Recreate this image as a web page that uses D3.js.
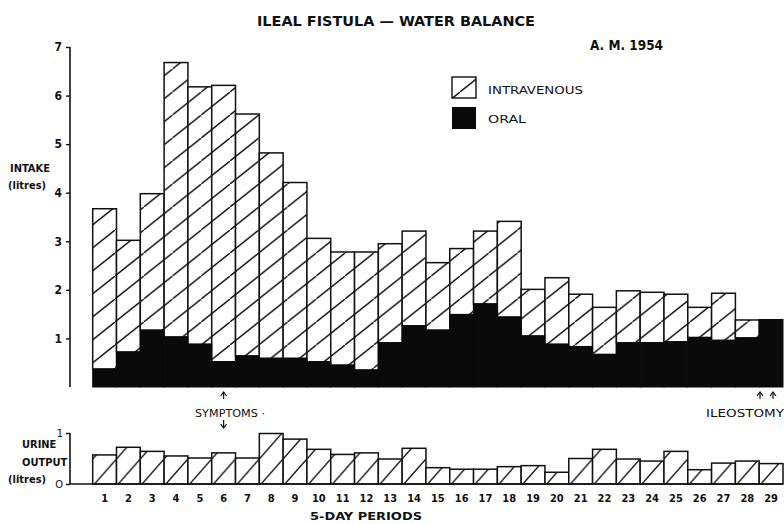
<!DOCTYPE html>
<html><head><meta charset="utf-8">
<script src="https://cdn.jsdelivr.net/npm/d3@7"></script>
<style>
html,body{margin:0;padding:0;background:#fff;}
svg{display:block;}
text{font-family:"Liberation Sans Narrow","DejaVu Sans Condensed","DejaVu Sans",sans-serif;fill:#111;}
</style></head><body>
<script>
// ---- data ----
const periods = d3.range(1, 30);
const totalIntake = [3.67,3.02,3.98,6.68,6.18,6.21,5.62,4.82,4.21,3.06,2.78,2.78,2.95,3.21,2.56,2.85,3.21,3.41,2.01,2.25,1.91,1.64,1.98,1.95,1.91,1.64,1.93,1.38,1.39];
const oralIntake  = [0.37,0.72,1.17,1.03,0.88,0.52,0.64,0.59,0.59,0.52,0.45,0.35,0.91,1.26,1.17,1.49,1.71,1.44,1.05,0.88,0.83,0.67,0.91,0.91,0.93,1.02,0.96,1.01,1.39];
const urineOutput = [0.57,0.72,0.64,0.55,0.51,0.61,0.51,0.99,0.88,0.68,0.58,0.61,0.49,0.70,0.32,0.29,0.29,0.34,0.36,0.23,0.50,0.68,0.49,0.45,0.64,0.28,0.41,0.45,0.40];
const intakeTicks = [1,2,3,4,5,6,7];
const urineTicks = [0,1];

const W = 784, H = 524;
const svg = d3.select("body").append("svg").attr("width", W).attr("height", H);

const defs = svg.append("defs");
function hatch(id, w, h, x0, y0){
  const p = defs.append("pattern").attr("id", id).attr("patternUnits","userSpaceOnUse")
    .attr("width", w).attr("height", h).attr("x", x0).attr("y", y0);
  p.append("rect").attr("width", w).attr("height", h).attr("fill","#fff");
  p.append("path").attr("d", `M${-w},${2*h} L${2*w},${-h}`)
    .attr("stroke","#111").attr("stroke-width",1.4).attr("fill","none");
}
hatch("hatchTop", 28.75, 23, 0, 0);
hatch("hatchBot", 23.8, 27, 92.7, 0);

// ---- scales ----
const x = d3.scaleBand().domain(periods).range([92.7, 783]).padding(0);
const y = d3.scaleLinear().domain([0, 7]).range([387, 47]);
const yB = d3.scaleLinear().domain([0, 1]).range([484, 433]);

// ---- top chart ----
const gTop = svg.append("g");
gTop.selectAll("rect.iv").data(periods).enter().append("rect")
  .attr("x", d => x(d)).attr("width", x.bandwidth())
  .attr("y", (d,i) => y(totalIntake[i]))
  .attr("height", (d,i) => Math.max(0, y(oralIntake[i]) - y(totalIntake[i])))
  .attr("fill","url(#hatchTop)").attr("stroke","#111").attr("stroke-width",1.5);
gTop.selectAll("rect.oral").data(periods).enter().append("rect")
  .attr("x", d => x(d)).attr("width", x.bandwidth())
  .attr("y", (d,i) => y(oralIntake[i]))
  .attr("height", (d,i) => y(0) - y(oralIntake[i]))
  .attr("fill","#0a0a0a").attr("stroke","#0a0a0a").attr("stroke-width",1);

// y axis top
const axT = svg.append("g").attr("transform","translate(70,0)")
  .call(d3.axisLeft(y).tickValues(intakeTicks).tickSize(4).tickSizeOuter(0).tickFormat(d3.format("d")));
axT.select(".domain").attr("stroke","#111").attr("stroke-width",1.6).attr("d", `M0,${y(7)}V${y(0)}`);
axT.selectAll(".tick line").attr("stroke","#111").attr("stroke-width",1.4);
axT.selectAll(".tick text").attr("font-size",12).attr("font-weight","bold").attr("x",-8).attr("fill","#111");

svg.append("text").attr("x",10).attr("y",172).attr("font-size",11).attr("font-weight","bold").text("INTAKE");
svg.append("text").attr("x",8).attr("y",189).attr("font-size",11).attr("font-weight","bold").text("(litres)");

// title
svg.append("text").attr("x",257).attr("y",26).attr("font-size",14).attr("font-weight","600").attr("textLength",278).attr("lengthAdjust","spacingAndGlyphs").text("ILEAL  FISTULA  —  WATER  BALANCE");
svg.append("text").attr("x",590).attr("y",50).attr("font-size",14).attr("font-weight","bold").attr("textLength",73).attr("lengthAdjust","spacingAndGlyphs").text("A. M.  1954");

// legend
svg.append("rect").attr("x",452).attr("y",77).attr("width",24).attr("height",21).attr("fill","url(#hatchTop)").attr("stroke","#111").attr("stroke-width",1.4);
svg.append("rect").attr("x",452).attr("y",107).attr("width",24).attr("height",22).attr("fill","#0a0a0a");
svg.append("text").attr("x",488).attr("y",94).attr("font-size",11).attr("textLength",95).attr("lengthAdjust","spacingAndGlyphs").text("INTRAVENOUS");
svg.append("text").attr("x",488).attr("y",123).attr("font-size",11).attr("textLength",38).attr("lengthAdjust","spacingAndGlyphs").text("ORAL");

// annotations
const symX = x(6) + x.bandwidth()/2;
function arrow(cx, y1, y2){
  svg.append("line").attr("x1",cx).attr("x2",cx).attr("y1",y1).attr("y2",y2).attr("stroke","#111").attr("stroke-width",1.2);
  const dir = y2 < y1 ? -1 : 1;
  svg.append("path").attr("d",`M${cx-3},${y2-dir*4} L${cx},${y2} L${cx+3},${y2-dir*4}`).attr("fill","none").attr("stroke","#111").attr("stroke-width",1.2);
}
arrow(symX, 399, 392);
arrow(symX, 420, 428);
svg.append("text").attr("x",195).attr("y",417).attr("font-size",11).attr("textLength",70).attr("lengthAdjust","spacingAndGlyphs").text("SYMPTOMS ·");
arrow(760, 399, 392);
arrow(773, 399, 392);
svg.append("text").attr("x",706).attr("y",417).attr("font-size",11).attr("textLength",78).attr("lengthAdjust","spacingAndGlyphs").text("ILEOSTOMY");

// ---- bottom chart ----
svg.selectAll("rect.ur").data(periods).enter().append("rect")
  .attr("x", d => x(d)).attr("width", x.bandwidth())
  .attr("y", (d,i) => yB(urineOutput[i]))
  .attr("height", (d,i) => yB(0) - yB(urineOutput[i]))
  .attr("fill","url(#hatchBot)").attr("stroke","#111").attr("stroke-width",1.5);

const axB = svg.append("g").attr("transform","translate(70,0)")
  .call(d3.axisLeft(yB).tickValues(urineTicks).tickSize(4).tickSizeOuter(0).tickFormat(d => d===0 ? "O" : "1"));
axB.select(".domain").attr("stroke","#111").attr("stroke-width",1.6).attr("d",`M0,${yB(1)}V${yB(0)}`);
axB.selectAll(".tick line").attr("stroke","#111").attr("stroke-width",1.4);
axB.selectAll(".tick text").attr("font-size",11).attr("x",-7).attr("fill","#111");
svg.append("line").attr("x1",70).attr("x2",783).attr("y1",yB(0)).attr("y2",yB(0)).attr("stroke","#111").attr("stroke-width",1.6);

svg.append("text").attr("x",22).attr("y",448).attr("font-size",11).attr("font-weight","bold").text("URINE");
svg.append("text").attr("x",22).attr("y",466).attr("font-size",11).attr("font-weight","bold").text("OUTPUT");
svg.append("text").attr("x",8).attr("y",483).attr("font-size",11).attr("font-weight","bold").text("(litres)");

// x axis labels
const axX = svg.append("g").attr("transform",`translate(0,${yB(0)})`)
  .call(d3.axisBottom(x).tickSize(0).tickPadding(10));
axX.select(".domain").remove();
axX.selectAll(".tick text").attr("font-size",11).attr("font-weight","bold").attr("fill","#111");

svg.append("text").attr("x",310).attr("y",520).attr("font-size",10).attr("font-weight","bold").attr("textLength",112).attr("lengthAdjust","spacingAndGlyphs").text("5-DAY  PERIODS");
</script>
</body></html>
